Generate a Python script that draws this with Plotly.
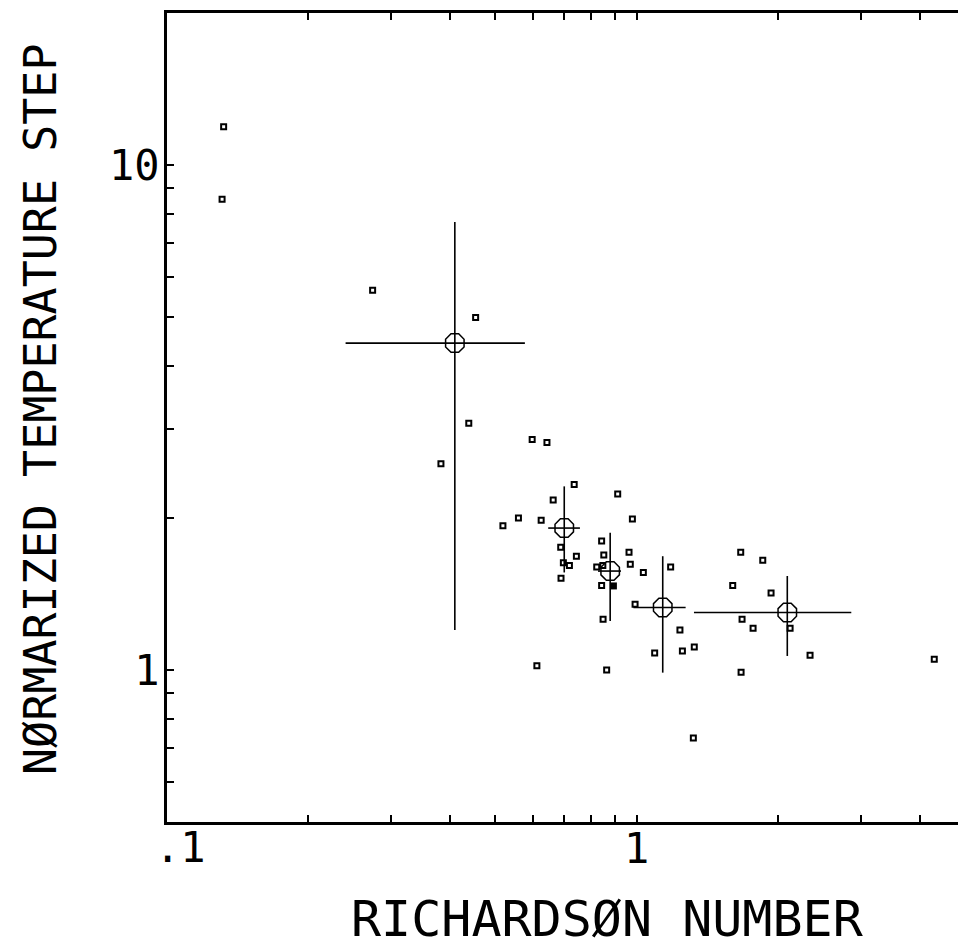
import numpy as np
import plotly.graph_objects as go

# individual observations (open squares)
ri_pts = [0.132, 0.131, 0.274, 0.454, 0.439, 0.383, 0.599, 0.644, 0.736, 0.664,
          0.911, 0.560, 0.519, 0.626, 0.979, 0.689, 0.744, 0.698, 0.719, 0.690,
          0.842, 0.851, 0.963, 0.822, 0.847, 0.969, 1.033, 1.181, 0.842, 1.601,
          0.992, 1.236, 0.848, 1.326, 1.251, 1.092, 0.613, 0.863, 1.320, 1.665,
          1.855, 1.932, 1.676, 1.769, 2.121, 1.668, 2.339, 4.30]
ts_pts = [11.9, 8.55, 5.65, 4.99, 3.08, 2.56, 2.86, 2.82, 2.33, 2.17,
          2.23, 2.00, 1.93, 1.98, 1.99, 1.75, 1.68, 1.63, 1.61, 1.52,
          1.80, 1.69, 1.71, 1.60, 1.61, 1.62, 1.56, 1.60, 1.47, 1.47,
          1.35, 1.20, 1.26, 1.11, 1.09, 1.08, 1.02, 1.00, 0.733, 1.71,
          1.65, 1.42, 1.26, 1.21, 1.21, 0.99, 1.07, 1.05]

# filled square
ri_filled = [0.892]
ts_filled = [1.467]

# bin means with ranges
ri_mean = [0.410, 0.701, 0.878, 1.136, 2.092]
ts_mean = [4.44, 1.91, 1.57, 1.33, 1.30]
ri_lo = [0.240, 0.648, 0.827, 0.984, 1.324]
ri_hi = [0.578, 0.757, 0.926, 1.271, 2.863]
ts_lo = [1.20, 1.56, 1.25, 0.988, 1.066]
ts_hi = [7.71, 2.31, 1.87, 1.68, 1.535]

x_major = [1]
x_major_text = ["1"]
x_minor = [0.2, 0.3, 0.4, 0.5, 0.6, 0.7, 0.8, 0.9, 2, 3, 4]
y_major = [1, 10]
y_major_text = ["1", "10"]
y_minor = [0.6, 0.7, 0.8, 0.9, 2, 3, 4, 5, 6, 7, 8, 9, 20]

FONT = "DejaVu Sans Mono"

fig = go.Figure()
fig.add_trace(go.Scatter(
    x=ri_pts, y=ts_pts, mode="markers",
    marker=dict(symbol="square-open", size=5, color="black",
                line=dict(width=2, color="black")),
    showlegend=False))
fig.add_trace(go.Scatter(
    x=ri_filled, y=ts_filled, mode="markers",
    marker=dict(symbol="square", size=7, color="black"),
    showlegend=False))
fig.add_trace(go.Scatter(
    x=ri_mean, y=ts_mean, mode="markers",
    marker=dict(symbol="octagon-open", size=20, color="black",
                line=dict(width=1.5, color="black")),
    error_x=dict(type="data", symmetric=False,
                 array=[h - m for h, m in zip(ri_hi, ri_mean)],
                 arrayminus=[m - l for m, l in zip(ri_mean, ri_lo)],
                 width=0, thickness=1.6, color="black"),
    error_y=dict(type="data", symmetric=False,
                 array=[h - m for h, m in zip(ts_hi, ts_mean)],
                 arrayminus=[m - l for m, l in zip(ts_mean, ts_lo)],
                 width=0, thickness=1.6, color="black"),
    showlegend=False))

axis_common = dict(
    type="log", showline=True, linewidth=3, linecolor="black",
    ticks="inside", ticklen=7, tickwidth=1.5, tickcolor="black",
    showgrid=False, zeroline=False,
    tickfont=dict(family=FONT, size=42, color="black"),
)

fig.update_layout(
    width=958, height=949,
    margin=dict(l=167, r=0, t=13, b=127),
    paper_bgcolor="white", plot_bgcolor="white",
    xaxis=dict(**axis_common, range=[-1, 0.684], mirror="ticks",
               tickvals=x_major, ticktext=x_major_text, ticklabelstandoff=-12,
               minor=dict(ticks="inside", ticklen=7, tickwidth=1.5,
                          tickcolor="black", tickvals=x_minor, showgrid=False)),
    yaxis=dict(**axis_common, range=[np.log10(0.5), np.log10(20)], mirror=False,
               tickvals=y_major, ticktext=y_major_text, ticklabelstandoff=-4,
               minor=dict(ticks="inside", ticklen=7, tickwidth=1.5,
                          tickcolor="black", tickvals=y_minor, showgrid=False)),
    annotations=[
        dict(text=".1", x=-1, y=-0.031, xref="x", yref="paper",
             xanchor="center", yanchor="middle", xshift=13, showarrow=False,
             font=dict(family=FONT, size=42, color="black")),
        dict(text="RICHARDSØN NUMBER", x=0.5563, y=-0.1199,
             xref="paper", yref="paper", xanchor="center", yanchor="middle",
             showarrow=False, font=dict(family=FONT, size=50, color="black")),
        dict(text="NØRMARIZED TEMPERATURE STEP", x=-0.1606, y=0.5105,
             xref="paper", yref="paper", xanchor="center", yanchor="middle",
             textangle=-90, showarrow=False,
             font=dict(family=FONT, size=45, color="black")),
    ],
)

fig.write_html(
    "out.html",
    config={"displayModeBar": False},
    post_script="document.body.style.margin='0';"
                "document.body.style.overflow='hidden';",
)
